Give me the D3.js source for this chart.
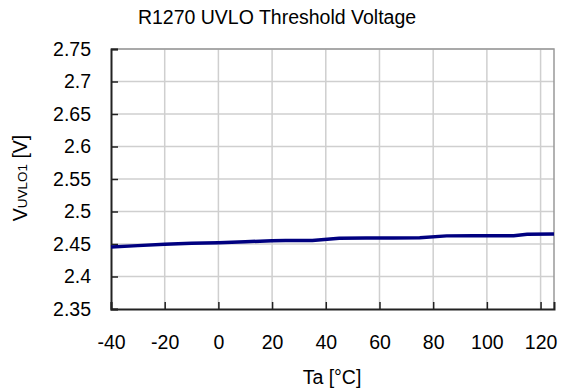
<!DOCTYPE html>
<html><head><meta charset="utf-8">
<script src="https://cdn.jsdelivr.net/npm/d3@7"></script>
<style>body{margin:0;background:#fff}svg{display:block}text{font-family:"Liberation Sans",Arial,sans-serif;fill:#000}</style>
</head><body><svg id="c" width="567" height="392"></svg>
<script>
const temps = [-40, -30, -20, -10, 0, 10, 20, 25, 35, 45, 55, 65, 75, 85, 95, 105, 110, 115, 125];
const vuvlo = [2.4455, 2.4475, 2.4495, 2.451, 2.452, 2.4535, 2.455, 2.4555, 2.4555, 2.4590, 2.4592, 2.4594, 2.4595, 2.4625, 2.4627, 2.4628, 2.4628, 2.4650, 2.4652];
const xTicks = [-40, -20, 0, 20, 40, 60, 80, 100, 120];
const yTicks = [2.35, 2.4, 2.45, 2.5, 2.55, 2.6, 2.65, 2.7, 2.75];

const svg = d3.select("#c");
const L = 111, R = 554, T = 49, B = 309;
const x = d3.scaleLinear().domain([-40, 125]).range([L, R]);
const y = d3.scaleLinear().domain([2.35, 2.75]).range([B, T]);
const FS = 19.5;

// grid
svg.append("g").selectAll("line").data(xTicks.slice(1)).join("line")
  .attr("x1", d => x(d)).attr("x2", d => x(d)).attr("y1", T).attr("y2", B)
  .attr("stroke", "#cfcfcf").attr("stroke-width", 1.5);
svg.append("g").selectAll("line").data(yTicks.slice(1)).join("line")
  .attr("x1", L).attr("x2", R).attr("y1", d => y(d)).attr("y2", d => y(d))
  .attr("stroke", "#cfcfcf").attr("stroke-width", 1.5);
// frame top/right
svg.append("path").attr("d", `M${L},${T}H${R}V${B}`).attr("fill", "none").attr("stroke", "#999").attr("stroke-width", 1.5);

// axes
const yAxis = d3.axisLeft(y).tickValues(yTicks).tickSize(-7).tickPadding(20).tickFormat(d => String(d));
const gy = svg.append("g").attr("transform", `translate(${L},0)`).call(yAxis);
const xAxis = d3.axisBottom(x).tickValues(xTicks).tickSize(-7).tickPadding(26).tickFormat(d => String(d));
const gx = svg.append("g").attr("transform", `translate(0,${B})`).call(xAxis);
[gy, gx].forEach(g => {
  g.select(".domain").attr("stroke", "#222").attr("stroke-width", 2);
  g.selectAll(".tick line").attr("stroke", "#222").attr("stroke-width", 1.5);
  g.selectAll("text").attr("font-size", FS).attr("fill", "#000")
   .attr("font-family", "'Liberation Sans', Arial, sans-serif");
});
gy.selectAll("text").attr("text-anchor", "end");

// line
svg.append("path").datum(temps.map((t, i) => [t, vuvlo[i]]))
  .attr("d", d3.line().x(d => x(d[0])).y(d => y(d[1])))
  .attr("fill", "none").attr("stroke", "#000080").attr("stroke-width", 3.5);

// title
svg.append("text").attr("x", 277).attr("y", 24).attr("text-anchor", "middle")
  .attr("font-size", FS).text("R1270 UVLO Threshold Voltage");
// x label
svg.append("text").attr("x", 332).attr("y", 384).attr("text-anchor", "middle")
  .attr("font-size", FS).text("Ta [°C]");
// y label
const yl = svg.append("text").attr("transform", "translate(27,178) rotate(-90)").attr("text-anchor", "middle").attr("font-size", FS);
yl.append("tspan").text("V");
yl.append("tspan").attr("font-size", 13.5).text("UVLO1");
yl.append("tspan").text(" [V]");
</script></body></html>
